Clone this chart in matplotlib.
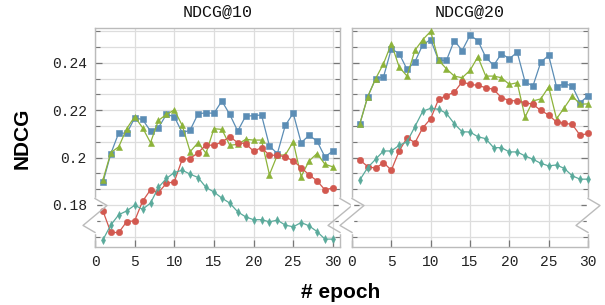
import numpy as np
import matplotlib as mpl
mpl.use("Agg")
import matplotlib.pyplot as plt
from matplotlib.ticker import MultipleLocator, FuncFormatter
from matplotlib.transforms import blended_transform_factory

#-----------------------------------------------------------------------------
# NDCG vs epoch, two panels (@10 and @20), four runs each
#-----------------------------------------------------------------------------

epochs = np.arange(1, 31)
titles = ["NDCG@10", "NDCG@20"]

# @10
blue10 = [0.1895, 0.2017, 0.2105, 0.2102, 0.2167, 0.2161, 0.2112, 0.2126, 0.2182, 0.2173,
          0.2105, 0.2116, 0.2185, 0.2189, 0.2187, 0.2239, 0.2182, 0.2112, 0.2175, 0.2177,
          0.2180, 0.2049, 0.2017, 0.2136, 0.2187, 0.2063, 0.2094, 0.2070, 0.2003, 0.2028]
green10 = [0.1906, 0.2021, 0.2046, 0.2122, 0.2173, 0.2126, 0.2063, 0.2157, 0.2182, 0.2201,
           0.2136, 0.2025, 0.2063, 0.2018, 0.2122, 0.2119, 0.2052, 0.2056, 0.2077, 0.2074,
           0.2074, 0.1928, 0.2011, 0.2011, 0.2067, 0.1920, 0.1986, 0.2017, 0.1972, 0.1961]
red10 = [0.1775, 0.1684, 0.1684, 0.1730, 0.1733, 0.1816, 0.1864, 0.1853, 0.1891, 0.1898,
         0.1993, 0.1996, 0.2021, 0.2053, 0.2052, 0.2066, 0.2088, 0.2063, 0.2059, 0.2027,
         0.2042, 0.2010, 0.2010, 0.2003, 0.1986, 0.1958, 0.1927, 0.1902, 0.1864, 0.1872]
teal10 = [0.1653, 0.1716, 0.1759, 0.1775, 0.1799, 0.1782, 0.1808, 0.1874, 0.1912, 0.1937,
          0.1947, 0.1930, 0.1916, 0.1874, 0.1855, 0.1829, 0.1808, 0.1771, 0.1750, 0.1738,
          0.1738, 0.1729, 0.1736, 0.1715, 0.1708, 0.1726, 0.1712, 0.1688, 0.1656, 0.1656]

# @20
blue20 = [0.2143, 0.2257, 0.2333, 0.2340, 0.2459, 0.2439, 0.2372, 0.2404, 0.2477, 0.2498,
          0.2411, 0.2410, 0.2494, 0.2452, 0.2516, 0.2494, 0.2424, 0.2389, 0.2439, 0.2417,
          0.2445, 0.2320, 0.2302, 0.2403, 0.2431, 0.2299, 0.2312, 0.2302, 0.2232, 0.2260]
green20 = [0.2143, 0.2257, 0.2333, 0.2396, 0.2481, 0.2382, 0.2344, 0.2453, 0.2498, 0.2533,
           0.2411, 0.2375, 0.2344, 0.2337, 0.2368, 0.2425, 0.2344, 0.2344, 0.2337, 0.2309,
           0.2316, 0.2171, 0.2239, 0.2248, 0.2298, 0.2164, 0.2211, 0.2260, 0.2225, 0.2227]
red20 = [0.1990, 0.1962, 0.1955, 0.1979, 0.1947, 0.2028, 0.2084, 0.2063, 0.2126, 0.2164,
         0.2246, 0.2262, 0.2276, 0.2320, 0.2309, 0.2305, 0.2295, 0.2288, 0.2253, 0.2241,
         0.2239, 0.2232, 0.2225, 0.2199, 0.2180, 0.2150, 0.2145, 0.2140, 0.2094, 0.2102]
teal20 = [0.1906, 0.1958, 0.1993, 0.2028, 0.2028, 0.2052, 0.2067, 0.2131, 0.2196, 0.2208,
          0.2204, 0.2187, 0.2143, 0.2109, 0.2108, 0.2088, 0.2080, 0.2042, 0.2042, 0.2024,
          0.2024, 0.2007, 0.1993, 0.1976, 0.1965, 0.1969, 0.1954, 0.1923, 0.1909, 0.1909]

panels = [[blue10, green10, red10, teal10], [blue20, green20, red20, teal20]]
colors = ["#5b8db5", "#8db33a", "#d2584f", "#5aaa9b"]
markers = ["s", "^", "o", "d"]
msizes = [4.8, 4.8, 4.6, 4.2]

W, H = 605, 305
fig = plt.figure(figsize=(W/100, H/100), dpi=100)

# axes boxes in pixels: (left, right, xmax)
boxes = [(95, 340, 30.9), (352, 588, 30.0)]
top, bot = 28, 246.7
ylo, yhi = 0.1624, 0.2547

mono = "Liberation Mono"
axs = []
for k, (l, r, xmax) in enumerate(boxes):
    ax = fig.add_axes([l/W, 1 - bot/H, (r - l)/W, (bot - top)/H])
    axs.append(ax)
    for series, c, m, ms in zip(panels[k], colors, markers, msizes):
        ax.plot(epochs, series, color=c, marker=m, ms=ms, lw=0.9,
                mec=c, mew=0.4, zorder=3, clip_on=False)
    ax.set_xlim(0, xmax)
    ax.set_ylim(ylo, yhi)
    ax.xaxis.set_major_locator(MultipleLocator(5))
    ax.yaxis.set_major_locator(MultipleLocator(0.02))
    ax.yaxis.set_minor_locator(MultipleLocator(0.02/3))
    ax.yaxis.set_major_formatter(FuncFormatter(lambda v, p: "{:g}".format(round(v, 4))))
    ax.grid(True, which="both", color="#dddddd", lw=0.9, zorder=0)
    ax.set_axisbelow(True)
    for s in ax.spines.values():
        s.set_color("#bbbbbb"); s.set_linewidth(1.0)
    ax.tick_params(which="both", direction="in", color="#777777", left=True, right=True,
                   top=False, labelsize=10.5, labelcolor="#222222", pad=6)
    ax.tick_params(which="major", length=5, width=0.9)
    ax.tick_params(which="minor", length=3.5, width=0.8)
    for lab in ax.get_xticklabels() + ax.get_yticklabels():
        lab.set_family(mono)
    if k == 1:
        ax.tick_params(axis="y", labelleft=False)
    ax.set_title(titles[k], family=mono, fontsize=12, color="#111111", pad=8)

# axis-break zigzags on the vertical spines
def y2d(py):
    return 0.24 - (py - 63) / 47.5 * 0.02

zig_py = [199, 206, 226, 233]
zig_dx = [0, 12, -12, 0]
for ax, (l, r, xmax) in zip(axs, boxes):
    wpx = r - l
    tr = blended_transform_factory(ax.transAxes, ax.transData)
    ys = [y2d(p) for p in zig_py]
    for xs0 in (0.0, 1.0):
        ax.plot([xs0, xs0], [ys[0], ys[-1]], color="white", lw=2.5, transform=tr,
                clip_on=False, zorder=5)
        xs = [xs0 + d / wpx for d in zig_dx]
        ax.plot(xs, ys, color="#bbbbbb", lw=1.0, transform=tr, clip_on=False, zorder=6)

fig.text(22/W, 1 - 138/H, "NDCG", rotation=90, ha="center", va="center",
         family="Liberation Sans", fontweight="bold", fontsize=15)
fig.text(341/W, 1 - 293/H, "# epoch", ha="center", va="center",
         family="Liberation Sans", fontweight="bold", fontsize=15)

fig.savefig("out.png", dpi=100)
